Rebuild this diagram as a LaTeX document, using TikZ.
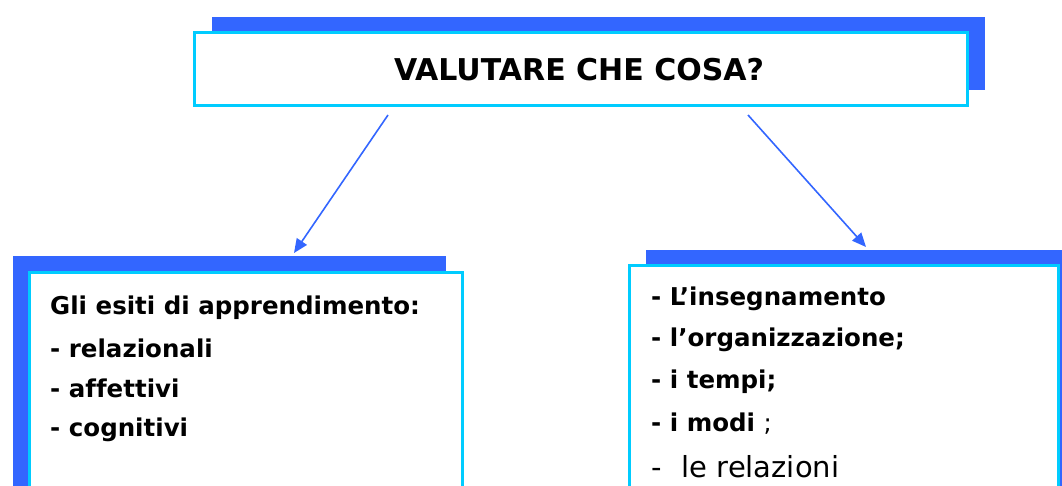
\documentclass[tikz,border=0pt]{standalone}
\usepackage{fontspec}
\setmainfont{DejaVu Sans}[Ligatures=NoCommon]
\usetikzlibrary{shadows,arrows.meta}
\definecolor{shblue}{HTML}{3366FF}
\definecolor{cyanb}{HTML}{00CCFF}
\begin{document}
\begin{tikzpicture}[x=1pt,y=-1pt,
  box/.style={draw=cyanb, line width=3pt, fill=white, rectangle, inner sep=0pt, anchor=north west},
  arr/.style={draw=shblue, line width=1.6pt, -{Triangle[length=14pt,width=12pt]}},
  lbl/.style={font=\bfseries\fontsize{24.5}{28}\selectfont, anchor=west, inner sep=0pt},
  ttl/.style={font=\bfseries\fontsize{30}{34}\selectfont, inner sep=0pt}]
\useasboundingbox (0,0) rectangle (1062,485);
\begin{scope}
\clip (0,0) rectangle (1062,485);
\node[box, minimum width=773pt, minimum height=73pt,
  general shadow={shadow xshift=17pt, shadow yshift=16pt, fill=shblue}] (top) at (193,31) {};
\node[box, minimum width=433pt, minimum height=240pt,
  general shadow={shadow xshift=-17pt, shadow yshift=17pt, fill=shblue}] (left) at (28,271) {};
\node[box, minimum width=429pt, minimum height=240pt,
  general shadow={shadow xshift=16pt, shadow yshift=16pt, fill=shblue}] (right) at (628,264) {};
\end{scope}
\node[ttl] (title) at (579,70) {VALUTARE CHE COSA?};
\node[lbl] (l1) at (50,308) {Gli esiti di apprendimento:};
\node[lbl] (l2) at (50,348) {- relazionali};
\node[lbl] (l3) at (50,388) {- affettivi};
\node[lbl] (l4) at (50,430) {- cognitivi};
\node[lbl] (r1) at (651,299) {- L’insegnamento};
\node[lbl] (r2) at (651,340) {- l’organizzazione;};
\node[lbl] (r3) at (651,382) {- i tempi;};
\node[lbl] (r4) at (651,424) {- i modi \textmd{;}};
\node[lbl, font=\fontsize{29}{33}\selectfont] (r5) at (651,467) {-\hspace{20pt}le relazioni};
\draw[arr] ([xshift=195pt,yshift=-8pt]top.south west) -- ([xshift=266pt,yshift=18pt]left.north west);
\draw[arr] ([xshift=555pt,yshift=-8pt]top.south west) -- ([xshift=238pt,yshift=17pt]right.north west);
\end{tikzpicture}
\end{document}
